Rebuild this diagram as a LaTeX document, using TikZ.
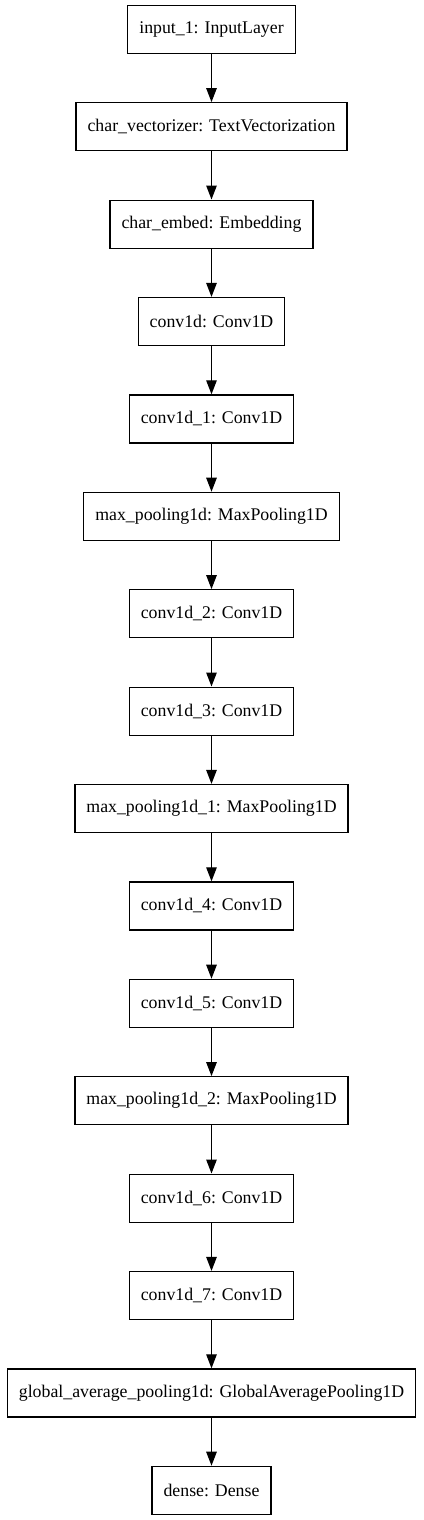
\documentclass[tikz,border=0pt]{standalone}
\usepackage{fontspec}
\setmainfont{Liberation Serif}
\usetikzlibrary{arrows.meta}
\begin{document}
\begin{tikzpicture}[x=1pt,y=-1pt,
  layer/.style={draw, line width=1.2pt, minimum height=48pt, inner xsep=11.5pt, inner ysep=0pt, font=\fontsize{17.8pt}{20pt}\selectfont, anchor=center},
  flow/.style={line width=1.2pt, -{Triangle[length=14pt,width=10.5pt]}}]
\useasboundingbox (0,0) rectangle (423,1520);
\foreach \i/\name/\txt in {
 0/n0/{input\_1: InputLayer},
 1/n1/{char\_vectorizer: TextVectorization},
 2/n2/{char\_embed: Embedding},
 3/n3/{conv1d: Conv1D},
 4/n4/{conv1d\_1: Conv1D},
 5/n5/{max\_pooling1d: MaxPooling1D},
 6/n6/{conv1d\_2: Conv1D},
 7/n7/{conv1d\_3: Conv1D},
 8/n8/{max\_pooling1d\_1: MaxPooling1D},
 9/n9/{conv1d\_4: Conv1D},
 10/n10/{conv1d\_5: Conv1D},
 11/n11/{max\_pooling1d\_2: MaxPooling1D},
 12/n12/{conv1d\_6: Conv1D},
 13/n13/{conv1d\_7: Conv1D},
 14/n14/{global\_average\_pooling1d: GlobalAveragePooling1D},
 15/n15/{dense: Dense}}
 \node[layer] (\name) at (211.5, {29.3 + 97.4*\i}) {\txt};
\foreach \a/\b in {n0/n1,n1/n2,n2/n3,n3/n4,n4/n5,n5/n6,n6/n7,n7/n8,n8/n9,n9/n10,n10/n11,n11/n12,n12/n13,n13/n14,n14/n15}
 \draw[flow] (\a) -- (\b);
\end{tikzpicture}
\end{document}
